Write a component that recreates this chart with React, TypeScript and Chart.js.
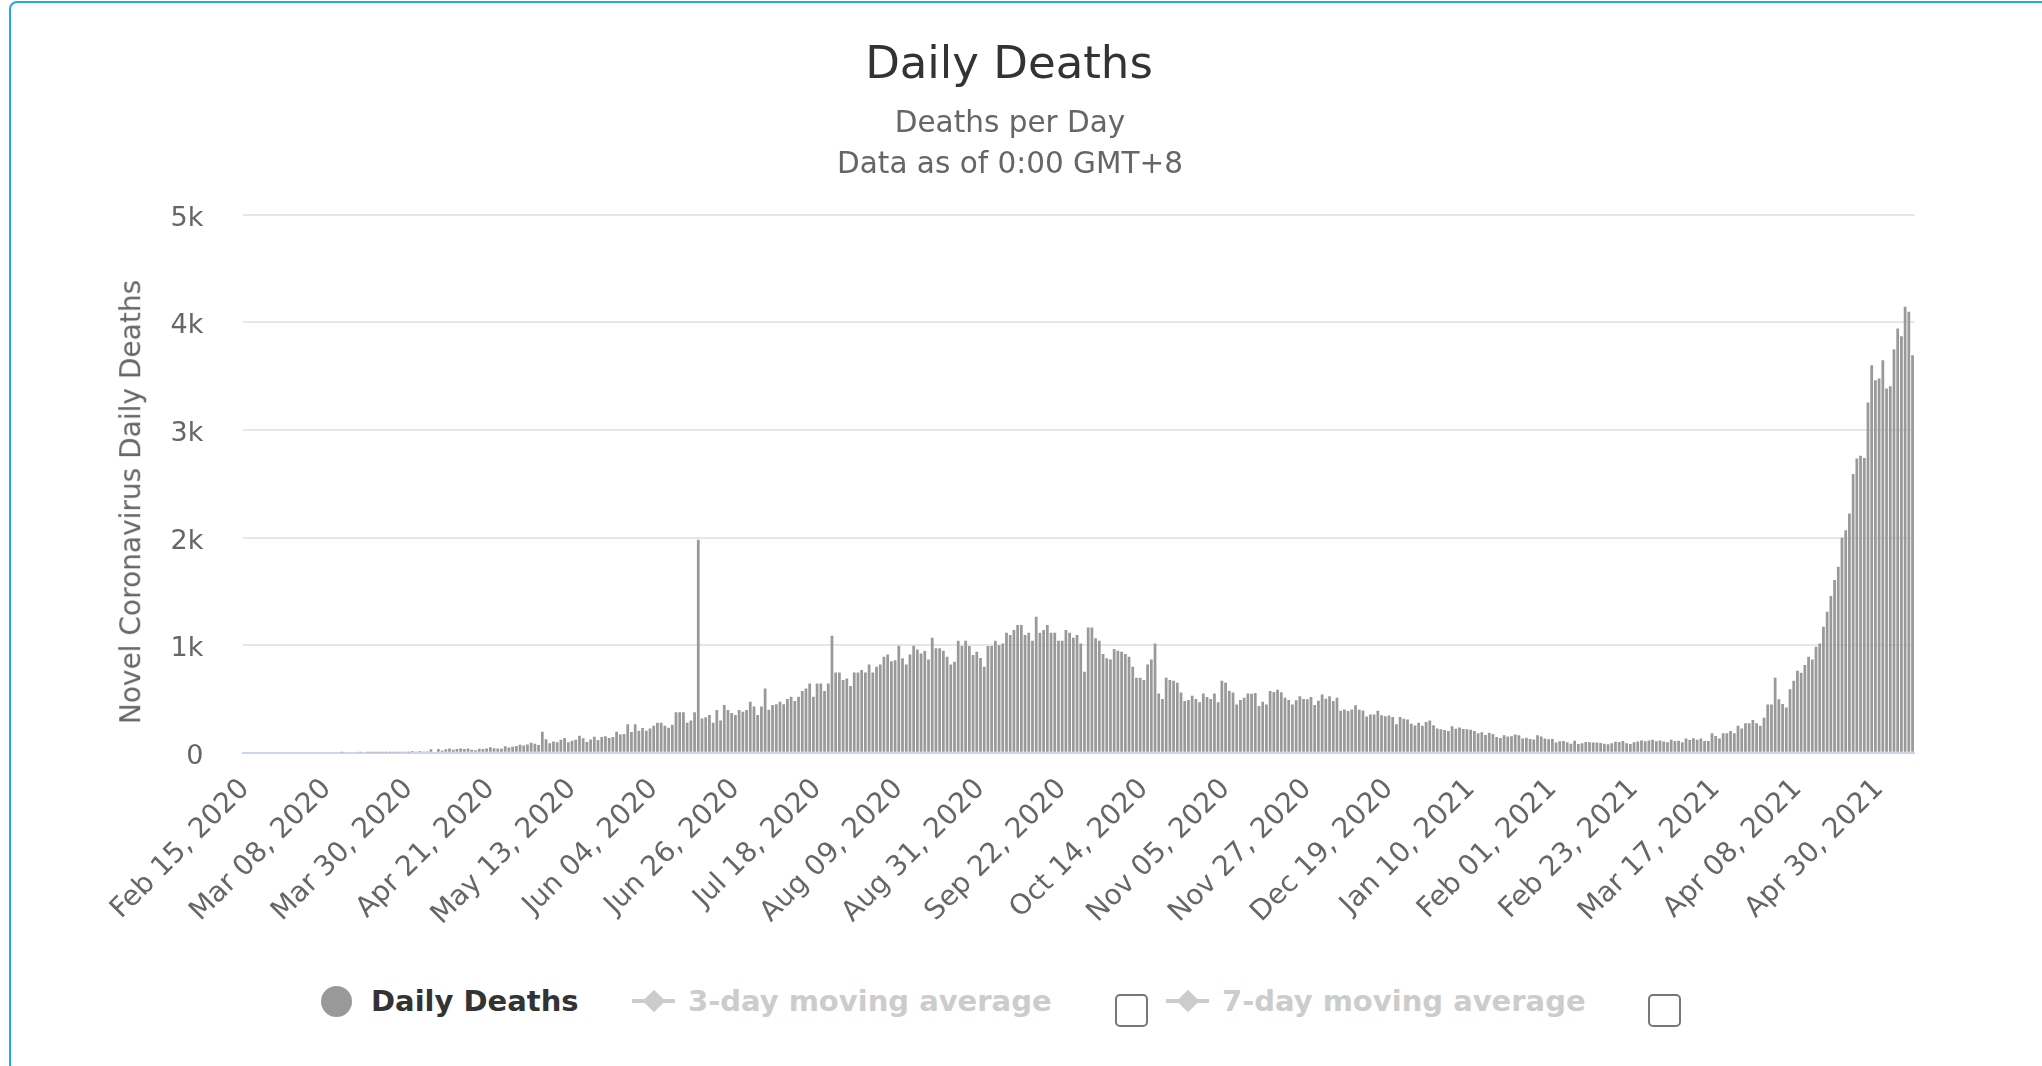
import React, { useEffect, useRef } from "react";
import { Chart, registerables } from "chart.js";

Chart.register(...registerables);

// ---- Data (daily deaths) ----
const START_DATE = "2020-02-15";
const FEB_2020 = [0, 0, 0, 0, 0, 0, 0, 0, 0, 0, 0, 0, 0, 0, 0];
const MAR_2020 = [0, 0, 0, 0, 0, 0, 0, 0, 0, 0, 0, 1, 0, 0, 0, 0, 1, 0, 1, 1, 1, 3, 2, 1, 2, 3, 3, 5, 4, 3, 15];
const APR_2020 = [6, 16, 12, 13, 32, 9, 35, 20, 33, 40, 27, 34, 40, 34, 38, 27, 23, 36, 35, 38, 50, 41, 38, 37, 60, 48, 56, 62, 73, 66];
const MAY_2020 = [77, 93, 83, 72, 195, 126, 89, 104, 97, 120, 137, 98, 111, 120, 157, 134, 100, 122, 148, 118, 147, 154, 137, 146, 194, 170, 175, 265, 193, 265, 204];
const JUN_2020 = [230, 204, 226, 250, 279, 279, 250, 232, 260, 375, 375, 375, 279, 300, 375, 1980, 319, 330, 350, 279, 396, 300, 443, 396, 370, 350, 396, 380, 396, 474];
const JUL_2020 = [430, 350, 430, 598, 400, 443, 450, 474, 450, 500, 520, 480, 520, 573, 598, 644, 520, 644, 644, 573, 644, 1087, 746, 746, 675, 690, 620, 746, 746, 770, 746];
const AUG_2020 = [820, 746, 800, 820, 892, 913, 850, 860, 994, 877, 820, 913, 994, 960, 923, 945, 867, 1069, 970, 970, 948, 892, 821, 846, 1041, 991, 1041, 991, 908, 939, 880];
const SEP_2020 = [799, 991, 991, 1041, 1000, 1016, 1115, 1094, 1140, 1187, 1187, 1094, 1115, 1041, 1264, 1115, 1140, 1187, 1115, 1115, 1041, 1041, 1140, 1115, 1069, 1094, 1016, 753, 1165, 1165];
const OCT_2020 = [1063, 1041, 917, 877, 867, 963, 948, 939, 917, 892, 799, 697, 697, 675, 821, 867, 1016, 550, 500, 697, 675, 669, 650, 560, 480, 490, 530, 500, 470, 550, 517];
const NOV_2020 = [500, 550, 470, 669, 650, 577, 559, 447, 490, 512, 550, 547, 554, 435, 474, 449, 574, 564, 585, 562, 511, 491, 447, 488, 524, 500, 496, 518, 443, 482];
const DEC_2020 = [540, 501, 524, 480, 511, 391, 402, 387, 402, 442, 400, 393, 336, 354, 355, 391, 349, 338, 347, 333, 264, 333, 316, 308, 268, 252, 279, 251, 286, 299, 256];
const JAN_2021 = [224, 217, 212, 201, 246, 223, 235, 220, 219, 214, 202, 181, 189, 165, 185, 175, 145, 137, 162, 151, 152, 169, 163, 131, 138, 127, 123, 163, 151, 131, 124];
const FEB_2021 = [127, 94, 107, 108, 96, 84, 110, 80, 88, 100, 97, 94, 95, 90, 83, 78, 88, 101, 100, 108, 87, 81, 97, 103, 113, 106, 113, 120];
const MAR_2021 = [106, 113, 103, 98, 120, 109, 111, 97, 133, 117, 134, 120, 133, 108, 108, 180, 155, 133, 180, 180, 201, 180, 251, 226, 273, 273, 304, 273, 251, 325, 449];
const APR_2021 = [449, 697, 496, 452, 421, 589, 669, 762, 743, 815, 892, 867, 985, 1016, 1171, 1310, 1456, 1605, 1729, 1998, 2069, 2224, 2590, 2735, 2760, 2741, 3256, 3603, 3463, 3479];
const MAY_2021 = [3649, 3386, 3408, 3752, 3944, 3872, 4145, 4099, 3696];

const DAILY_DEATHS = [
  ...FEB_2020, ...MAR_2020, ...APR_2020, ...MAY_2020, ...JUN_2020, ...JUL_2020,
  ...AUG_2020, ...SEP_2020, ...OCT_2020, ...NOV_2020, ...DEC_2020, ...JAN_2021,
  ...FEB_2021, ...MAR_2021, ...APR_2021, ...MAY_2021,
];

const TICK_STEP = 22;
const TICK_LABELS = [
  "Feb 15, 2020", "Mar 08, 2020", "Mar 30, 2020", "Apr 21, 2020", "May 13, 2020",
  "Jun 04, 2020", "Jun 26, 2020", "Jul 18, 2020", "Aug 09, 2020", "Aug 31, 2020",
  "Sep 22, 2020", "Oct 14, 2020", "Nov 05, 2020", "Nov 27, 2020", "Dec 19, 2020",
  "Jan 10, 2021", "Feb 01, 2021", "Feb 23, 2021", "Mar 17, 2021", "Apr 08, 2021",
  "Apr 30, 2021",
];
const Y_TICKS = [0, 1000, 2000, 3000, 4000, 5000];
const Y_TICK_LABELS = ["0", "1k", "2k", "3k", "4k", "5k"];

const MONTHS = ["Jan", "Feb", "Mar", "Apr", "May", "Jun", "Jul", "Aug", "Sep", "Oct", "Nov", "Dec"];
function buildCategories(n: number): string[] {
  const base = new Date(START_DATE + "T00:00:00Z").getTime();
  const out: string[] = [];
  for (let i = 0; i < n; i++) {
    const d = new Date(base + i * 86400000);
    out.push(`${MONTHS[d.getUTCMonth()]} ${String(d.getUTCDate()).padStart(2, "0")}, ${d.getUTCFullYear()}`);
  }
  return out;
}
const CATEGORIES = buildCategories(DAILY_DEATHS.length);

// ---- Layout constants ----
const W = 2042;
const CANVAS_H = 960;
const PLOT_LEFT = 243.4;
const PLOT_RIGHT = 1914.4;
const PLOT_TOP = 214.9;
const PLOT_BOTTOM = 752.7;
const FONT = "'DejaVu Sans', 'Liberation Sans', sans-serif";

export default function App() {
  const canvasRef = useRef<HTMLCanvasElement | null>(null);

  useEffect(() => {
    const canvas = canvasRef.current;
    if (!canvas) return;
    const chart = new Chart(canvas, {
      type: "bar",
      data: {
        labels: CATEGORIES,
        datasets: [
          {
            label: "Daily Deaths",
            data: DAILY_DEATHS,
            backgroundColor: "#999999",
            borderWidth: 0,
            barPercentage: 0.74,
            categoryPercentage: 1,
          },
        ],
      },
      options: {
        animation: false,
        responsive: false,
        maintainAspectRatio: false,
        devicePixelRatio: 1,
        layout: { padding: { left: 0, right: W - PLOT_RIGHT, top: PLOT_TOP, bottom: 0 } },
        plugins: {
          legend: { display: false },
          title: { display: false },
          tooltip: { enabled: false },
        },
        scales: {
          x: {
            type: "category",
            offset: true,
            grid: { display: false, drawTicks: false },
            border: { display: true, color: "#ccd6eb", width: 2 },
            ticks: {
              autoSkip: false,
              minRotation: 45,
              maxRotation: 45,
              padding: 20,
              color: "#666666",
              font: { family: FONT, size: 28 },
              callback: (_v: any, i: number) => (i % TICK_STEP === 0 ? TICK_LABELS[i / TICK_STEP] ?? "" : ""),
            },
            afterFit: (s: any) => {
              s.height = CANVAS_H - PLOT_BOTTOM;
            },
          },
          y: {
            min: 0,
            max: 5000,
            grid: { color: "#e6e6e6", lineWidth: 2, drawTicks: false },
            border: { display: false },
            afterBuildTicks: (s: any) => {
              s.ticks = Y_TICKS.map((v) => ({ value: v }));
            },
            ticks: {
              padding: 40,
              labelOffset: 4,
              color: "#666666",
              font: { family: FONT, size: 27 },
              callback: (v: any) => {
                const idx = Y_TICKS.indexOf(Number(v));
                return idx >= 0 ? Y_TICK_LABELS[idx] : "";
              },
            },
            afterFit: (s: any) => {
              s.width = PLOT_LEFT;
            },
          },
        },
      },
    } as any);
    return () => chart.destroy();
  }, []);

  const legendTop = 984.3;
  const symbolY = 1001;
  const legendFont = 29;
  const legendLH = "34.8px";

  return (
    <div style={{ position: "absolute", left: 0, top: 0, width: W, height: 1066, overflow: "hidden", background: "#fff", fontFamily: FONT }}>
      <div style={{ position: "absolute", left: 9, top: 1, width: 2200, height: 1300, border: "2px solid #1fa9ee", borderRadius: 8, boxSizing: "border-box" }} />
      <canvas ref={canvasRef} width={W} height={CANVAS_H} style={{ position: "absolute", left: 0, top: 0, width: W, height: CANVAS_H, display: "block" }} />

      {/* Title & subtitles */}
      <div style={{ position: "absolute", left: 0, width: 2018, top: 35.7, textAlign: "center", fontSize: 45, lineHeight: "54px", color: "#333333", whiteSpace: "nowrap" }}>Daily Deaths</div>
      <div style={{ position: "absolute", left: 0, width: 2020, top: 105.3, textAlign: "center", fontSize: 29.5, lineHeight: "35.4px", color: "#666666", whiteSpace: "nowrap" }}>Deaths per Day</div>
      <div style={{ position: "absolute", left: 0, width: 2020, top: 145.6, textAlign: "center", fontSize: 29.5, lineHeight: "35.4px", color: "#666666", whiteSpace: "nowrap" }}>Data as of 0:00 GMT+8</div>

      {/* Y axis title */}
      <div style={{ position: "absolute", left: 130.5, top: 502, transform: "translate(-50%, -50%) rotate(-90deg)", fontSize: 28, lineHeight: "33.6px", color: "#666666", whiteSpace: "nowrap" }}>Novel Coronavirus Daily Deaths</div>

      {/* Legend */}
      <div style={{ position: "absolute", left: 321, top: symbolY - 15.5, width: 31, height: 31, borderRadius: "50%", background: "#999999" }} />
      <div style={{ position: "absolute", left: 371, top: legendTop, fontSize: legendFont, lineHeight: legendLH, fontWeight: "bold", color: "#333333", whiteSpace: "nowrap" }}>Daily Deaths</div>

      <div style={{ position: "absolute", left: 632, top: symbolY - 2, width: 43, height: 4, background: "#cccccc" }} />
      <div style={{ position: "absolute", left: 653.5 - 8, top: symbolY - 8, width: 16, height: 16, background: "#cccccc", transform: "rotate(45deg)" }} />
      <div style={{ position: "absolute", left: 688, top: legendTop, fontSize: legendFont, lineHeight: legendLH, fontWeight: "bold", color: "#cccccc", whiteSpace: "nowrap" }}>3-day moving average</div>
      <div style={{ position: "absolute", left: 1115, top: 994, width: 33, height: 33, border: "2px solid #777777", borderRadius: 5, boxSizing: "border-box", background: "#fff" }} />

      <div style={{ position: "absolute", left: 1166, top: symbolY - 2, width: 43, height: 4, background: "#cccccc" }} />
      <div style={{ position: "absolute", left: 1187.5 - 8, top: symbolY - 8, width: 16, height: 16, background: "#cccccc", transform: "rotate(45deg)" }} />
      <div style={{ position: "absolute", left: 1222, top: legendTop, fontSize: legendFont, lineHeight: legendLH, fontWeight: "bold", color: "#cccccc", whiteSpace: "nowrap" }}>7-day moving average</div>
      <div style={{ position: "absolute", left: 1648, top: 994, width: 33, height: 33, border: "2px solid #777777", borderRadius: 5, boxSizing: "border-box", background: "#fff" }} />
    </div>
  );
}
